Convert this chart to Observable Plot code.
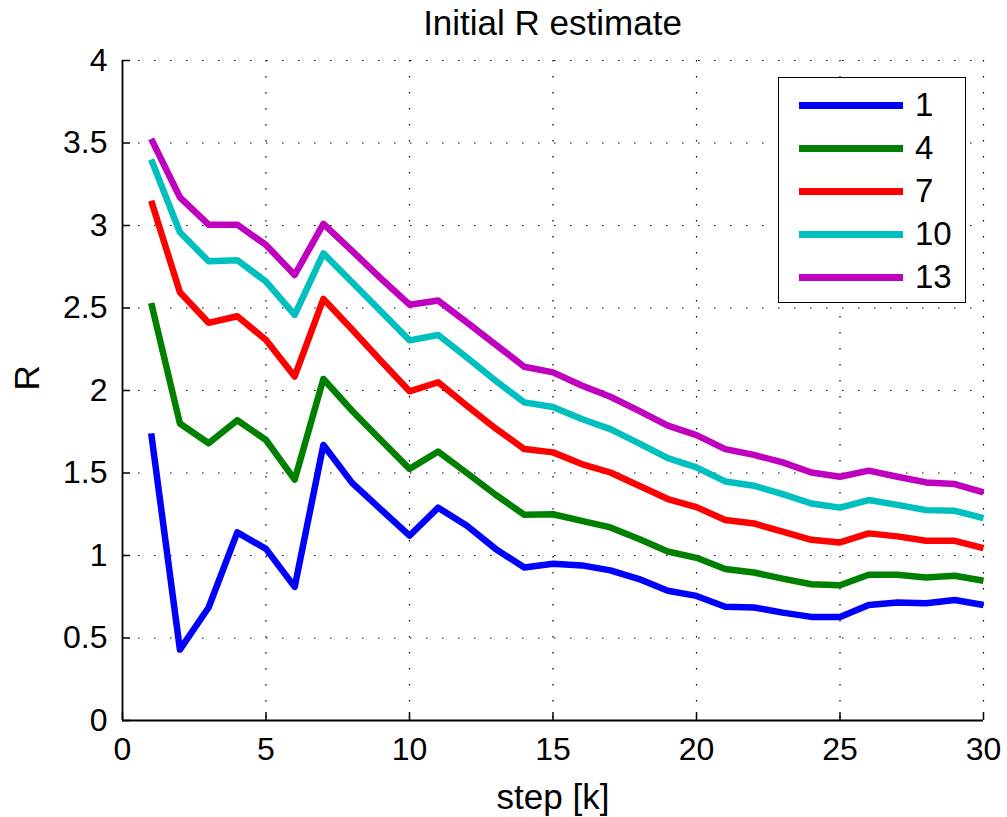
<!DOCTYPE html>
<html>
<head>
<meta charset="utf-8">
<script src="https://cdn.jsdelivr.net/npm/d3@7"></script>
<script src="https://cdn.jsdelivr.net/npm/@observablehq/plot@0.6"></script>
<style>
  html, body { margin: 0; padding: 0; background: #fff; }
  #wrap { position: relative; width: 1007px; height: 817px; font-family: "Liberation Sans", Arial, Helvetica, sans-serif; color: #000; }
  #title { height: 45px; line-height: 45px; font-size: 35px; text-align: center; padding-left: 98px; box-sizing: border-box; width: 1007px; }
  #legend { position: absolute; left: 778px; top: 77px; width: 188px; height: 226px; box-sizing: border-box; border: 1.5px solid #000; background: #fff; }
  .row { position: absolute; left: 0; height: 40px; width: 100%; }
  .row .sw { position: absolute; left: 20px; width: 104px; height: 7px; top: 17px; }
  .row .lb { position: absolute; left: 136px; top: 0; line-height: 40px; font-size: 33px; }
</style>
</head>
<body>
<div id="wrap">
  <div id="title">Initial R estimate</div>
  <div id="chart"></div>
  <div id="legend"></div>
</div>
<script>
const steps = [1,2,3,4,5,6,7,8,9,10,11,12,13,14,15,16,17,18,19,20,21,22,23,24,25,26,27,28,29,30];
const seriesNames = ["1","4","7","10","13"];
const seriesColors = ["#0000ff","#008000","#ff0000","#00bfbf","#bf00bf"];
const r1  = [1.74,0.43,0.685,1.14,1.04,0.81,1.67,1.44,1.28,1.12,1.29,1.18,1.04,0.927,0.95,0.94,0.91,0.857,0.786,0.755,0.689,0.685,0.654,0.628,0.628,0.70,0.715,0.71,0.73,0.70];
const r4  = [2.53,1.80,1.68,1.82,1.70,1.46,2.07,1.877,1.70,1.525,1.63,1.50,1.368,1.247,1.25,1.21,1.17,1.10,1.024,0.986,0.918,0.897,0.86,0.826,0.82,0.883,0.883,0.867,0.877,0.847];
const r7  = [3.15,2.595,2.41,2.45,2.306,2.085,2.555,2.37,2.18,1.995,2.05,1.908,1.77,1.645,1.625,1.554,1.503,1.423,1.342,1.293,1.215,1.194,1.144,1.095,1.079,1.134,1.116,1.089,1.089,1.045];
const r10 = [3.40,2.959,2.783,2.79,2.66,2.458,2.831,2.656,2.48,2.304,2.336,2.20,2.059,1.928,1.90,1.827,1.766,1.68,1.59,1.534,1.449,1.423,1.372,1.315,1.29,1.336,1.307,1.275,1.271,1.227];
const r13 = [3.525,3.171,3.005,3.005,2.882,2.70,3.01,2.846,2.68,2.52,2.545,2.413,2.278,2.144,2.11,2.03,1.962,1.877,1.787,1.73,1.645,1.61,1.564,1.503,1.477,1.514,1.477,1.443,1.433,1.382];
const xTicks = [0,5,10,15,20,25,30];
const yTicks = [0,0.5,1,1.5,2,2.5,3,3.5,4];
const xDomain = [0,30];
const yDomain = [0,4];
const xLabel = "step [k]";
const yLabel = "R";

const seriesValues = [r1, r4, r7, r10, r13];
const data = seriesNames.flatMap((s, i) => steps.map((k, j) => ({k, R: seriesValues[i][j], series: s})));

const W = 1007, H = 772, mT = 15, mB = 97, mL = 122, mR = 24;
const plotH = H - mT - mB, plotW = W - mL - mR;
const dotted = {stroke: "#000", strokeOpacity: 1, strokeWidth: 1.2, strokeDasharray: "1.5,14.5"};

const chart = Plot.plot({
  width: W, height: H,
  marginTop: mT, marginBottom: mB, marginLeft: mL, marginRight: mR,
  style: {fontFamily: "'Liberation Sans', Arial, Helvetica, sans-serif", fontSize: "32px", color: "#000", background: "#fff", overflow: "visible"},
  x: {domain: xDomain, ticks: xTicks},
  y: {domain: yDomain, ticks: yTicks},
  color: {domain: seriesNames, range: seriesColors},
  marks: [
    Plot.gridX(xTicks, dotted),
    Plot.gridY(yTicks, dotted),
    Plot.axisX(xTicks, {tickSize: 0, tickPadding: 17, label: null}),
    Plot.axisY(yTicks, {tickSize: 0, tickPadding: 15, tickFormat: d => String(d), label: null}),
    Plot.text([xLabel], {text: d => d, frameAnchor: "bottom", dy: 77, fontSize: 35, lineAnchor: "middle"}),
    Plot.text([yLabel], {text: d => d, frameAnchor: "left", dx: -95, rotate: -90, fontSize: 35, lineAnchor: "middle"}),
    Plot.tickX(xTicks, {x: d => d, insetTop: plotH - 8, stroke: "#000", strokeWidth: 1.5}),
    Plot.tickY(yTicks, {y: d => d, insetRight: plotW - 8, stroke: "#000", strokeWidth: 1.5}),
    Plot.ruleX([xDomain[0]], {stroke: "#000", strokeWidth: 1.8}),
    Plot.ruleY([yDomain[0]], {stroke: "#000", strokeWidth: 1.8}),
    Plot.line(data, {x: "k", y: "R", z: "series", stroke: "series", strokeWidth: 6.5, strokeLinejoin: "round", strokeLinecap: "butt"})
  ]
});
document.getElementById("chart").appendChild(chart);

const legend = document.getElementById("legend");
seriesNames.forEach((s, i) => {
  const row = document.createElement("div");
  row.className = "row";
  row.style.top = (7 + i * 43) + "px";
  const sw = document.createElement("div");
  sw.className = "sw";
  sw.style.background = seriesColors[i];
  const lb = document.createElement("div");
  lb.className = "lb";
  lb.textContent = s;
  row.appendChild(sw);
  row.appendChild(lb);
  legend.appendChild(row);
});
</script>
</body>
</html>
